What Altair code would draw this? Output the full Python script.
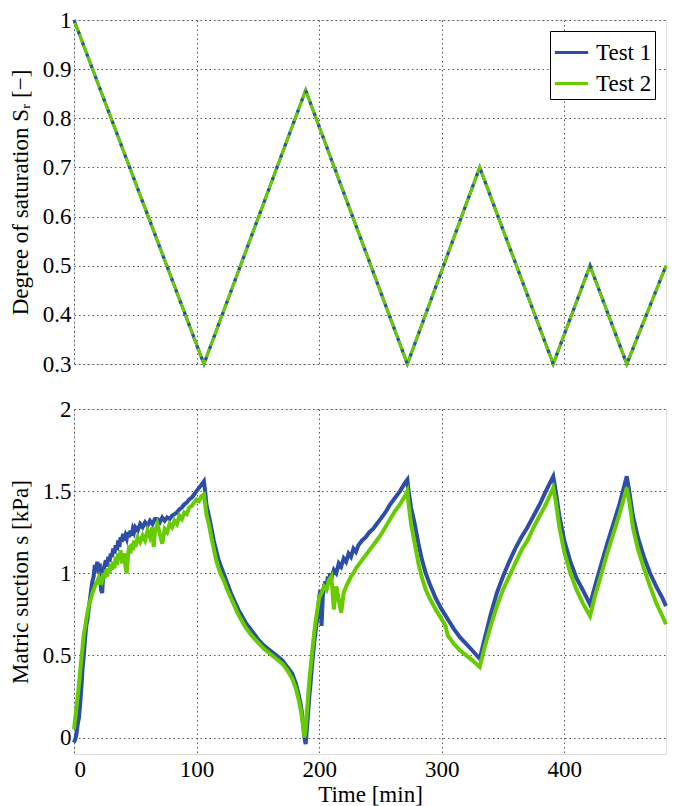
import altair as alt
import pandas as pd

# ---------- data ----------
sat_t = [0, 106, 189, 272, 331, 391, 421, 451, 483]
sat_v = [1.0, 0.3, 0.857, 0.3, 0.7, 0.3, 0.5, 0.3, 0.5]

t1_t = [0, 1, 2, 3, 4, 5, 6, 7, 8, 9, 10, 11, 12, 13, 14, 15, 16, 17, 18, 19, 20, 21, 22, 23, 24, 25, 26, 27, 28, 29,
        30, 31, 32, 33, 34, 35, 36, 37, 38, 39, 40, 41, 42, 43, 44, 45, 46, 47, 48, 49, 50, 52, 54, 56, 58, 60, 62, 64,
        66, 68, 70, 72, 74, 76, 78, 80, 82, 84, 86, 88, 90, 92, 94, 96, 98, 100, 102, 104, 106, 107, 108, 110, 112,
        114, 116, 118, 120, 122, 125, 128, 131, 134, 137, 140, 145, 150, 155, 160, 165, 170, 174, 178, 181, 183, 185,
        186, 187, 188, 189, 190, 191, 192, 193, 194, 195, 196, 197, 198, 199, 200, 201, 202, 203, 204, 205, 206, 207,
        208, 209, 210, 212, 214, 216, 218, 220, 222, 224, 226, 228, 230, 232, 235, 238, 241, 244, 247, 250, 254, 258,
        262, 266, 270, 272, 273, 275, 278, 281, 284, 287, 290, 295, 300, 305, 310, 315, 320, 325, 331, 335, 340, 345,
        350, 355, 360, 365, 370, 375, 380, 385, 391, 393, 396, 400, 405, 410, 415, 421, 425, 430, 435, 440, 445, 451,
        453, 456, 460, 465, 470, 475, 480, 483]
t1_v = [-0.03, -0.01, 0.02, 0.08, 0.12, 0.2, 0.3, 0.42, 0.5, 0.6, 0.68, 0.72, 0.78, 0.84, 0.9, 0.95, 0.98, 1.05, 1.02,
        1.07, 1.0, 1.06, 0.9, 0.88, 1.02, 1.05, 1.08, 1.04, 1.1, 1.07, 1.12, 1.1, 1.15, 1.12, 1.17, 1.14, 1.2, 1.16,
        1.22, 1.19, 1.24, 1.2, 1.23, 1.21, 1.25, 1.22, 1.26, 1.23, 1.27, 1.25, 1.28, 1.26, 1.3, 1.28, 1.31, 1.29, 1.32,
        1.3, 1.33, 1.33, 1.31, 1.34, 1.32, 1.34, 1.33, 1.35, 1.36, 1.37, 1.39, 1.4, 1.42, 1.43, 1.45, 1.46, 1.48, 1.5,
        1.52, 1.54, 1.56, 1.5, 1.42, 1.35, 1.28, 1.2, 1.14, 1.08, 1.04, 1.0, 0.94, 0.88, 0.83, 0.78, 0.74, 0.7, 0.65,
        0.6, 0.56, 0.53, 0.5, 0.47, 0.43, 0.39, 0.33, 0.27, 0.2, 0.15, 0.08, 0.0, -0.04, 0.05, 0.15, 0.25, 0.33, 0.42,
        0.5, 0.58, 0.64, 0.7, 0.75, 0.85, 0.9, 0.68, 0.86, 0.92, 0.95, 0.9, 0.98, 0.95, 1.0, 0.97, 1.02, 1.0, 1.06,
        1.04, 1.09, 1.07, 1.12, 1.1, 1.15, 1.13, 1.17, 1.2, 1.22, 1.25, 1.27, 1.3, 1.33, 1.37, 1.42, 1.46, 1.5, 1.55,
        1.57, 1.5, 1.4, 1.3, 1.18, 1.08, 1.0, 0.94, 0.85, 0.78, 0.72, 0.66, 0.61, 0.57, 0.53, 0.48, 0.6, 0.75, 0.88,
        0.98, 1.07, 1.15, 1.22, 1.28, 1.35, 1.42, 1.5, 1.59, 1.5, 1.35, 1.2, 1.07, 0.97, 0.9, 0.81, 0.92, 1.05, 1.18,
        1.3, 1.42, 1.59, 1.5, 1.35, 1.22, 1.1, 1.0, 0.92, 0.85, 0.8]

t2_t = [0, 1, 2, 3, 4, 5, 6, 7, 8, 9, 10, 11, 12, 13, 14, 15, 16, 17, 18, 19, 20, 21, 22, 23, 24, 25, 26, 27, 28, 29,
        30, 31, 32, 33, 34, 35, 36, 37, 38, 39, 40, 41, 42, 43, 44, 45, 46, 47, 48, 49, 50, 52, 54, 56, 58, 60, 62, 64,
        65, 66, 68, 70, 72, 74, 76, 78, 80, 82, 84, 86, 88, 90, 92, 94, 96, 98, 100, 102, 104, 106, 107, 108, 110, 112,
        114, 116, 118, 120, 122, 125, 128, 131, 134, 137, 140, 145, 150, 155, 160, 165, 170, 174, 178, 181, 183, 185,
        186, 187, 188, 189, 190, 191, 192, 193, 194, 195, 196, 197, 198, 199, 200, 202, 204, 206, 208, 210, 211, 212,
        213, 214, 216, 218, 220, 222, 224, 226, 228, 230, 232, 235, 238, 241, 244, 247, 250, 254, 258, 262, 266, 270,
        272, 273, 275, 278, 281, 284, 287, 290, 295, 300, 303, 305, 310, 315, 320, 325, 331, 335, 340, 345, 350, 355,
        360, 365, 370, 375, 380, 385, 391, 393, 396, 400, 405, 410, 415, 421, 425, 430, 435, 440, 445, 451, 453, 456,
        460, 465, 470, 475, 480, 483]
t2_v = [0.05, 0.12, 0.18, 0.25, 0.32, 0.4, 0.48, 0.55, 0.63, 0.67, 0.72, 0.76, 0.8, 0.83, 0.85, 0.88, 0.9, 0.92, 0.94,
        0.95, 0.97, 0.93, 0.98, 0.96, 1.0, 0.97, 1.02, 0.98, 1.03, 1.0, 1.06, 1.02, 1.07, 1.03, 1.1, 1.05, 1.12, 1.08,
        1.14, 1.06, 1.1, 1.12, 1.04, 1.0, 1.1, 1.17, 1.12, 1.18, 1.14, 1.2, 1.16, 1.22, 1.19, 1.23, 1.2, 1.26, 1.22,
        1.28, 1.16, 1.25, 1.3, 1.24, 1.18, 1.27, 1.25, 1.3, 1.28, 1.32, 1.3, 1.35, 1.33, 1.37, 1.36, 1.4, 1.41, 1.43,
        1.45, 1.44, 1.47, 1.48, 1.42, 1.36, 1.3, 1.22, 1.15, 1.08, 1.03, 0.99, 0.96, 0.9, 0.85, 0.8, 0.75, 0.71, 0.67,
        0.62, 0.58, 0.54, 0.51, 0.48, 0.45, 0.41, 0.36, 0.3, 0.24, 0.17, 0.12, 0.06, 0.0, 0.05, 0.15, 0.25, 0.35, 0.42,
        0.5, 0.57, 0.64, 0.7, 0.75, 0.8, 0.85, 0.88, 0.92, 0.9, 0.96, 0.98, 0.88, 0.78, 0.85, 0.92, 0.84, 0.76, 0.88,
        0.92, 0.95, 0.98, 1.0, 1.03, 1.05, 1.08, 1.11, 1.14, 1.17, 1.2, 1.23, 1.28, 1.33, 1.38, 1.42, 1.47, 1.5, 1.42,
        1.3, 1.18, 1.06, 0.97, 0.9, 0.85, 0.78, 0.72, 0.68, 0.62, 0.57, 0.53, 0.5, 0.47, 0.43, 0.55, 0.68, 0.8, 0.9,
        0.98, 1.06, 1.14, 1.2, 1.28, 1.35, 1.42, 1.52, 1.44, 1.28, 1.13, 1.0, 0.9, 0.82, 0.74, 0.86, 0.99, 1.12, 1.24,
        1.36, 1.52, 1.44, 1.28, 1.15, 1.03, 0.92, 0.82, 0.74, 0.69]

series_names = ["Test 1", "Test 2"]
colors = ["#2E4DA7", "#66CC00"]
x_ticks = [0, 100, 200, 300, 400]
sat_ticks = [0.3, 0.4, 0.5, 0.6, 0.7, 0.8, 0.9, 1.0]
suc_ticks = [0, 0.5, 1.0, 1.5, 2.0]

# ---------- tables ----------
sat_df = pd.concat([
    pd.DataFrame({"t": sat_t, "v": sat_v, "series": s, "order": range(len(sat_t))}) for s in series_names
])
suc_df = pd.concat([
    pd.DataFrame({"t": t1_t, "v": t1_v, "series": "Test 1", "order": range(len(t1_t))}),
    pd.DataFrame({"t": t2_t, "v": t2_v, "series": "Test 2", "order": range(len(t2_t))}),
])

FONT = "Liberation Serif"
FS = 23
W = 592
H = 344

grid_axis = dict(grid=True, gridDash=[1.5, 3], gridColor="#555555", gridWidth=1, ticks=False,
                 domain=False, labelFont=FONT, labelFontSize=FS, labelColor="black",
                 titleFont=FONT, titleFontSize=FS, titleFontWeight="normal", titleColor="black")

xscale = alt.Scale(domain=[0, 483], nice=False, zero=False)
color_scale = alt.Scale(domain=series_names, range=colors)

top_x = alt.X("t:Q", scale=xscale, axis=alt.Axis(values=x_ticks, labels=False, title=None, **grid_axis))
top_y = alt.Y("v:Q", scale=alt.Scale(domain=[0.3, 1.0], nice=False, zero=False),
              axis=alt.Axis(values=sat_ticks, format="~g", title="Degree of saturation Sᵣ [−]",
                            labelPadding=3, titlePadding=10, **grid_axis))

top_solid = alt.Chart(sat_df).mark_line(strokeWidth=3).encode(
    x=top_x, y=top_y,
    color=alt.Color("series:N", scale=color_scale,
                    legend=alt.Legend(title=None, orient="top-right", offset=11, labelFont=FONT,
                                      labelFontSize=FS, labelColor="black", symbolType="stroke",
                                      symbolStrokeWidth=3, symbolSize=1100, strokeColor="black",
                                      fillColor="white", padding=3, rowPadding=0, labelOffset=6,
                                      cornerRadius=0)),
    order="order:Q",
)
top_dash = alt.Chart(sat_df).transform_filter(alt.datum.series == "Test 1").mark_line(
    strokeWidth=3, strokeDash=[3, 9], color=colors[0]
).encode(x=top_x, y=top_y, order="order:Q")

top = alt.layer(top_solid, top_dash).properties(width=W, height=H)

bottom = alt.Chart(suc_df).mark_line(strokeWidth=4).encode(
    x=alt.X("t:Q", scale=xscale,
            axis=alt.Axis(values=x_ticks, title="Time [min]", labelPadding=4, titlePadding=2, **grid_axis)),
    y=alt.Y("v:Q", scale=alt.Scale(domain=[-0.1, 2.0], nice=False, zero=False),
            axis=alt.Axis(values=suc_ticks, format="~g", title="Matric suction s [kPa]",
                          labelPadding=3, titlePadding=10, **grid_axis)),
    color=alt.Color("series:N", scale=color_scale, legend=None),
    order="order:Q",
).properties(width=W, height=H + 1)

chart = alt.vconcat(top, bottom, spacing=20).resolve_scale(color="independent").configure_view(
    stroke="black", strokeWidth=1.3
).configure(font=FONT, padding={"left": 0, "top": 0, "right": 0, "bottom": 0}, background="white")

chart.save("out.html", embed_options={"renderer": "svg", "actions": False})
